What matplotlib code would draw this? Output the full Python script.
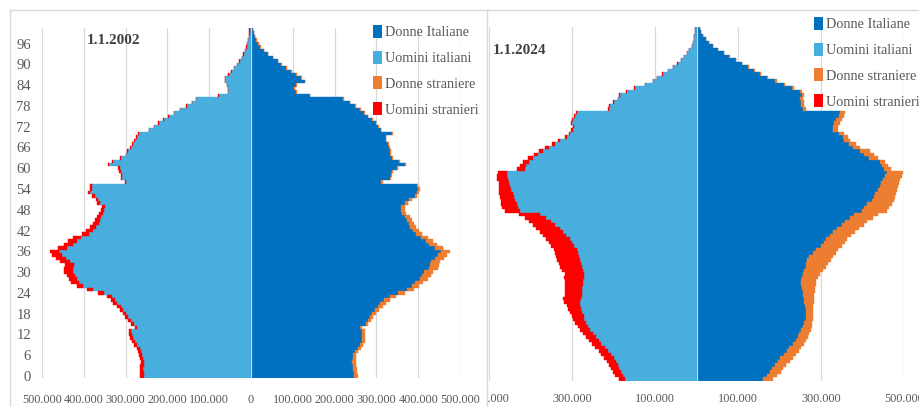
import numpy as np
import matplotlib
matplotlib.use('Agg')
from matplotlib import pyplot as plt
from matplotlib.patches import Patch
from matplotlib.lines import Line2D
from matplotlib.transforms import Bbox, TransformedBbox

plt.rcParams['font.family'] = ['Liberation Serif', 'DejaVu Serif']

ages = list(range(0, 101))

# 1.1.2002 - values in thousands, age 0..100
uomini_it_2002 = [256, 257, 258, 257, 256, 259, 261, 263, 266, 273,
                  278, 282, 285, 286, 272, 281, 288, 294, 299, 306,
                  312, 320, 325, 333, 352, 378, 401, 412, 416, 420,
                  427, 426, 423, 434, 443, 452, 459, 440, 426, 417,
                  406, 388, 379, 371, 364, 361, 358, 353, 351, 349,
                  361, 366, 374, 385, 381, 380, 298, 308, 308, 312,
                  314, 340, 330, 311, 298, 295, 287, 283, 277, 273,
                  269, 244, 232, 221, 209, 197, 184, 169, 154, 141,
                  131.5, 77.5, 55.5, 54.5, 57.5, 62.5, 61.5, 53.5, 46.5, 40.5,
                  33.5, 27.5, 21.5, 17.5, 13.5, 10.5, 8.5, 6.5, 4.5, 3.5, 3.5]
uomini_str_2002 = [9, 9, 8, 8, 8, 7, 7, 7, 7, 7,
                   7, 7, 7, 7, 6, 7, 7, 7, 8, 8,
                   9, 10, 11, 12, 13, 15, 16, 18, 19, 20,
                   21, 22, 22, 23, 23, 23, 23, 22, 21, 20,
                   19, 17, 16, 14, 13, 12, 11, 10, 9, 8,
                   7, 6, 6, 5, 5, 4, 3, 3, 3, 3,
                   3, 2, 2, 2, 2, 2, 2, 2, 2, 2,
                   1, 1, 1, 1, 1, 1, 1, 1, 1, 1,
                   0.5, 0.5, 0.5, 0.5, 0.5, 0.5, 0.5, 0.5, 0.5, 0.5,
                   0.5, 0.5, 0.5, 0.5, 0.5, 0.5, 0.5, 0.5, 0.5, 0.5, 0.5]
donne_it_2002 = [246, 246, 245, 244, 242, 243, 244, 248, 255, 261,
                 265, 266, 266, 266, 260, 274, 280, 284, 289, 296,
                 303, 309, 318, 333, 352, 373, 384, 393, 404, 409,
                 414, 425, 428, 430, 440, 447, 455, 440, 427, 418,
                 407, 394, 387, 380, 377, 373, 369, 362, 359, 360,
                 368, 379, 392, 397, 399, 396, 312, 332, 334, 337,
                 349, 368, 353, 337, 333, 333, 330, 328, 322, 322,
                 338.5, 310.5, 304.5, 298.5, 289.5, 279.5, 270.5, 260.5, 248.5, 236.5,
                 221, 140, 108, 104, 108, 128, 120, 108, 96, 84,
                 72, 64, 52, 40, 30, 22, 17, 13, 9, 6, 4]
donne_str_2002 = [9, 8, 8, 8, 8, 7, 7, 7, 7, 7,
                  7, 7, 7, 7, 6, 7, 7, 8, 9, 10,
                  12, 13, 14, 15, 16, 17, 18, 19, 20, 21,
                  22, 22, 22, 22, 22, 21, 21, 20, 19, 18,
                  17, 16, 15, 14, 13, 12, 11, 10, 9, 8,
                  7, 6, 6, 5, 5, 4, 4, 4, 3, 3,
                  3, 3, 3, 3, 3, 2, 2, 2, 2, 2,
                  1.5, 1.5, 1.5, 1.5, 1.5, 1.5, 1.5, 1.5, 1.5, 1.5,
                  1, 1, 1, 1, 1, 1, 1, 1, 1, 1,
                  1, 1, 1, 1, 1, 1, 1, 1, 1, 1, 1]

# 1.1.2024
uomini_it_2024 = [172, 178, 182, 186, 190, 195, 200, 206, 213, 220,
                  229, 236, 243, 250, 257, 262, 266, 270, 272, 275,
                  278, 280, 280, 279, 277, 277, 275, 274, 273, 272,
                  270, 274, 277, 278, 280, 283, 285, 289, 295, 300,
                  306, 314, 322, 330, 340, 350, 362, 378, 425, 430,
                  433, 437, 440, 443, 446, 449, 451, 455, 457, 456,
                  414, 410, 404, 393, 381, 371, 356, 340, 328, 313,
                  304, 298, 294.5, 299.5, 298, 293, 288, 212, 208, 200,
                  188.5, 184.5, 168.5, 149, 124, 104, 94.3, 81.3, 67.5, 55.5,
                  45.6, 36.7, 29.8, 23.8, 17.8, 11.9, 8.9, 5.9, 4.9, 2.95, 2.95]
uomini_str_2024 = [14, 18, 19, 19, 20, 21, 22, 23, 23, 24,
                   23, 23, 23, 24, 24, 24, 26, 27, 28, 30,
                   31, 33, 40, 43, 41, 39, 41, 44, 45, 48,
                   48, 51, 53, 54, 55, 55, 55, 55, 55, 56,
                   56, 56, 56, 56, 55, 54, 52, 50, 37, 38,
                   37, 35, 34, 32, 29, 27, 26, 25, 24, 22,
                   18, 16, 14, 12, 11, 9, 8, 7, 6, 5,
                   4, 4, 3.5, 3.5, 3, 3, 3, 2, 2, 2,
                   1.5, 1.5, 1.5, 1, 1, 1, 0.7, 0.7, 0.5, 0.5,
                   0.4, 0.3, 0.2, 0.2, 0.2, 0.1, 0.1, 0.1, 0.1, 0.05, 0.05]
donne_it_2024 = [160, 170, 178, 182, 190, 196, 202, 210, 218, 224,
                 232, 240, 244, 248, 252, 256, 260, 263, 264, 265,
                 263, 262, 260, 258, 256, 256, 254, 253, 253, 254,
                 257, 260, 263, 265, 267, 270, 280, 287, 300, 308,
                 313, 322, 330, 338, 350, 358, 370, 380, 398, 404,
                 412, 424, 428, 430, 438, 442, 445, 450, 455, 460,
                 452, 448, 442, 415, 404, 394, 376, 368, 356, 352,
                 343, 330, 328, 332, 337, 343, 345, 256, 253, 253,
                 250, 254, 250, 229, 210, 190, 169, 152, 138, 124,
                 108.5, 94, 79, 65.3, 51.5, 39.6, 29.7, 21.8, 14.9, 9.9, 7.9]
donne_str_2024 = [24, 25, 25, 26, 25, 29, 30, 30, 30, 29,
                  28, 25, 24, 24, 24, 22, 19, 17, 16, 15,
                  17, 19, 22, 25, 28, 29, 32, 35, 36, 38,
                  40, 45, 49, 53, 57, 60, 56, 53, 50, 49,
                  49, 50, 53, 54, 53, 54, 55, 58, 62, 61,
                  58, 52, 50, 50, 46, 44, 43, 40, 39, 38,
                  16, 14, 13, 23, 24, 24, 19, 17, 14, 13,
                  12, 12, 12, 13, 13, 12, 12, 8, 7, 7,
                  6, 6, 5, 5, 4, 4, 3, 3, 2, 2,
                  1.5, 1, 1, 0.7, 0.5, 0.4, 0.3, 0.2, 0.1, 0.1, 0.1]

labels_legenda = ['Donne Italiane', 'Uomini italiani', 'Donne straniere', 'Uomini stranieri']
colori = ['#0070C0', '#47AEDE', '#ED7D31', '#FF0000']

ticks_2002 = [-500000, -400000, -300000, -200000, -100000, 0, 100000, 200000, 300000, 400000, 500000]
ticklabels_2002 = ['500.000', '400.000', '300.000', '200.000', '100.000', '0',
                   '100.000', '200.000', '300.000', '400.000', '500.000']
ticks_2024 = [-500000, -300000, -100000, 100000, 300000, 500000]
ticklabels_2024 = ['500.000', '300.000', '100.000', '100.000', '300.000', '500.000']
age_ticks = list(range(0, 97, 6))

W, H = 919, 407
fig = plt.figure(figsize=(W / 100, H / 100), dpi=100)
fig.patch.set_facecolor('white')

gray_txt = '#595959'
grid_col = '#d9d9d9'


def pyramid(ax, u_it, u_st, d_it, d_st, ticks, ticklabels):
    u_it = np.array(u_it) * 1000
    u_st = np.array(u_st) * 1000
    d_it = np.array(d_it) * 1000
    d_st = np.array(d_st) * 1000
    ax.barh(ages, -u_it, height=1.0, color=colori[1], edgecolor=colori[1], lw=0.3)
    ax.barh(ages, -u_st, left=-u_it, height=1.0, color=colori[3], edgecolor=colori[3], lw=0.3)
    ax.barh(ages, d_it, height=1.0, color=colori[0], edgecolor=colori[0], lw=0.3)
    ax.barh(ages, d_st, left=d_it, height=1.0, color=colori[2], edgecolor=colori[2], lw=0.3)
    ax.axvline(0, color='#c8d8ea', lw=0.9, zorder=3)
    ax.set_xlim(-500000, 500000)
    ax.set_ylim(-0.5, 100.5)
    ax.set_xticks(ticks)
    ax.set_xticklabels(ticklabels)
    ax.xaxis.grid(True, color=grid_col, lw=0.9)
    ax.set_axisbelow(True)
    for s in ax.spines.values():
        s.set_visible(False)
    ax.tick_params(axis='x', length=0, pad=12, labelsize=8.8, labelcolor=gray_txt)
    ax.tick_params(axis='y', length=0, pad=8, labelsize=10.5, labelcolor=gray_txt)


ax1 = fig.add_axes([42 / W, 1 - 377.7 / H, 418 / W, 349.7 / H])
pyramid(ax1, uomini_it_2002, uomini_str_2002, donne_it_2002, donne_str_2002,
        ticks_2002, ticklabels_2002)
ax1.set_yticks(age_ticks)
ax1.set_yticklabels([str(a) for a in age_ticks])

ax2 = fig.add_axes([489 / W, 1 - 381 / H, 415 / W, 354.3 / H])
pyramid(ax2, uomini_it_2024, uomini_str_2024, donne_it_2024, donne_str_2024,
        ticks_2024, ticklabels_2024)
ax2.set_yticks([])
ax2.tick_params(axis='x', pad=9)

# first label of the 2024 chart is partly hidden behind the 2002 one
clip = TransformedBbox(Bbox.from_extents(487 / W, 0, 1, 1), fig.transFigure)
lab0 = ax2.get_xticklabels()[0]
lab0.set_clip_box(clip)
lab0.set_clip_on(True)

fig.text(87 / W, 1 - 41 / H, '1.1.2002', fontsize=11, fontweight='bold', color='#404040', va='center')
fig.text(493 / W, 1 - 50 / H, '1.1.2024', fontsize=11, fontweight='bold', color='#404040', va='center')

handles = [Patch(facecolor=c, edgecolor='none') for c in colori]
for x0, y0 in [(373 / W, 1 - 25 / H), (814 / W, 1 - 17 / H)]:
    fig.legend(handles, labels_legenda, loc='upper left', bbox_to_anchor=(x0, y0),
               frameon=False, fontsize=10.3, handlelength=0.65, handleheight=1.0,
               handletextpad=0.2, labelspacing=0.8, borderpad=0, borderaxespad=0,
               labelcolor=gray_txt)

# panel frames
fr = '#d9d9d9'
fig.add_artist(Line2D([10 / W, 10 / W], [0, 1 - 10 / H], transform=fig.transFigure, color=fr, lw=1))
fig.add_artist(Line2D([10 / W, 1], [1 - 10 / H, 1 - 10 / H], transform=fig.transFigure, color=fr, lw=1))
fig.add_artist(Line2D([487 / W, 487 / W], [0, 1 - 10 / H], transform=fig.transFigure, color=fr, lw=1))

fig.savefig('out.png', dpi=100)
